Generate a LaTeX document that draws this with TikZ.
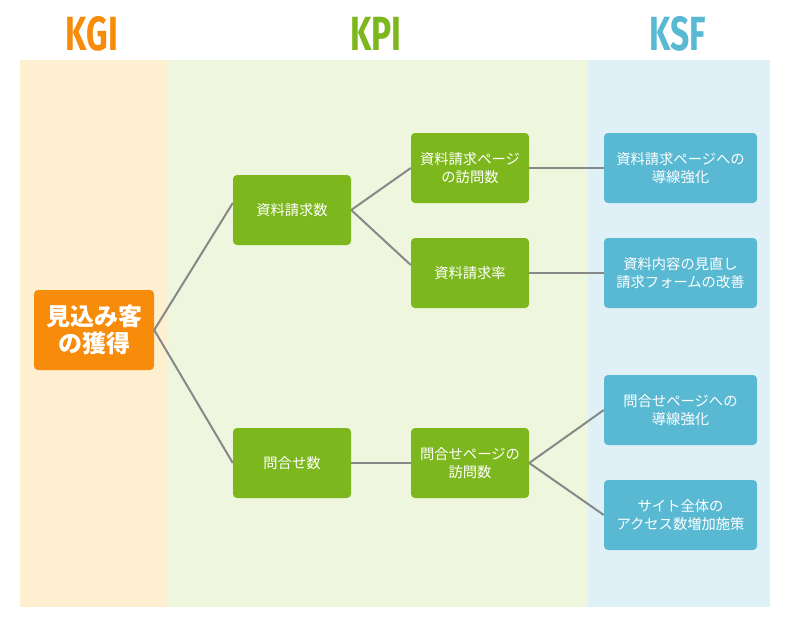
\documentclass[tikz,border=0pt]{standalone}
\usepackage{fontspec}
\usepackage{graphicx}
\setmainfont{Noto Sans CJK JP}
\newfontfamily\headfont{Fira Sans}
\usetikzlibrary{calc}

\definecolor{kgiOrange}{HTML}{F78B0A}
\definecolor{kpiGreen}{HTML}{7DB71E}
\definecolor{ksfBlue}{HTML}{59B9D3}
\definecolor{kgiBack}{HTML}{FDEFD0}
\definecolor{kpiBack}{HTML}{EEF6DD}
\definecolor{ksfBack}{HTML}{DFF0F6}
\definecolor{lineGray}{HTML}{888888}

\begin{document}
\begin{tikzpicture}[x=1pt,y=-1pt,
    head/.style={font=\headfont\bfseries\fontsize{48}{48}\selectfont},
    kpibox/.style={fill=kpiGreen,rounded corners=4pt,text=white,align=center,
      minimum width=118pt,minimum height=70pt,font=\fontsize{14.3}{17.5}\selectfont},
    ksfbox/.style={fill=ksfBlue,rounded corners=4pt,text=white,align=center,
      minimum width=153pt,minimum height=70pt,font=\fontsize{14.3}{17.5}\selectfont},
    link/.style={draw=lineGray,line width=2pt}]
    \useasboundingbox (0,0) rectangle (790,630);

    % column backgrounds
    \fill[kgiBack] (20,60) rectangle (167,607);
    \fill[kpiBack] (167,60) rectangle (588,607);
    \fill[ksfBack] (588,60) rectangle (770,607);

    % column titles
    \node[head,text=kgiOrange] (kgi) at (92,34) {\scalebox{0.7}[1]{KGI}};
    \node[head,text=kpiGreen] (kpi) at (376,34) {\scalebox{0.7}[1]{KPI}};
    \node[head,text=ksfBlue] (ksf) at (678,34) {\scalebox{0.7}[1]{KSF}};

    % goal
    \node[fill=kgiOrange,rounded corners=4pt,text=white,align=center,
      minimum width=120pt,minimum height=80pt,
      font=\bfseries\fontsize{24}{27}\selectfont] (goal) at (94,330) {見込み客\\の獲得};

    % kpi tree
    \node[kpibox] (docreq) at (292,210) {資料請求数};
    \node[kpibox] (inq) at (292,463) {問合せ数};
    \node[kpibox] (docvisit) at (470,168) {資料請求ページ\\の訪問数};
    \node[kpibox] (docrate) at (470,273) {資料請求率};
    \node[kpibox] (inqvisit) at (470,463) {問合せページの\\訪問数};

    % success factors
    \node[ksfbox] (ksfa) at (680.5,168) {資料請求ページへの\\導線強化};
    \node[ksfbox] (ksfb) at (680.5,273) {資料内容の見直し\\請求フォームの改善};
    \node[ksfbox] (ksfc) at (680.5,410) {問合せページへの\\導線強化};
    \node[ksfbox] (ksfd) at (680.5,515) {サイト全体の\\アクセス数増加施策};

    \draw[link] (goal.east) -- ($(docreq.west)+(0,-7)$);
    \draw[link] (goal.east) -- (inq.west);
    \draw[link] (docreq.east) -- (docvisit.west);
    \draw[link] (docreq.east) -- ($(docrate.west)+(0,-8)$);
    \draw[link] (docvisit.east) -- (ksfa.west);
    \draw[link] (docrate.east) -- (ksfb.west);
    \draw[link] (inq.east) -- (inqvisit.west);
    \draw[link] (inqvisit.east) -- (ksfc.west);
    \draw[link] (inqvisit.east) -- (ksfd.west);
\end{tikzpicture}
\end{document}
